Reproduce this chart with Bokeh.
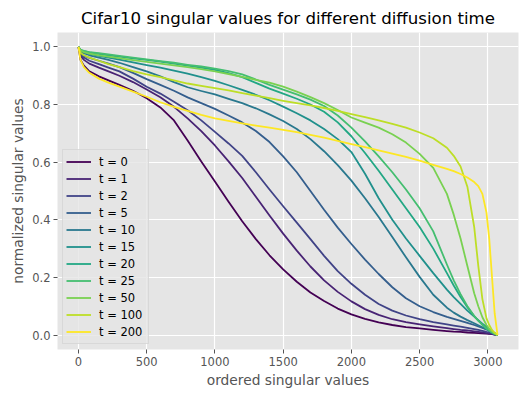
from bokeh.plotting import figure
from bokeh.models import Range1d, FixedTicker, Legend, LegendItem
from bokeh.palettes import Viridis256
from bokeh.embed import file_html
from bokeh.resources import INLINE

title = "Cifar10 singular values for different diffusion time"
x_label = "ordered singular values"
y_label = "normalized singular values"

times = [0, 1, 2, 5, 10, 15, 20, 25, 50, 100, 200]

x_ticks = [0, 500, 1000, 1500, 2000, 2500, 3000]
x_tick_labels = ["0", "500", "1000", "1500", "2000", "2500", "3000"]
y_ticks = [0.0, 0.2, 0.4, 0.6, 0.8, 1.0]
y_tick_labels = ["0.0", "0.2", "0.4", "0.6", "0.8", "1.0"]

index = [0, 15, 40, 80, 150, 220,
         300, 400, 500, 600, 700, 800, 900, 1000, 1100, 1200, 1300, 1400, 1500,
         1600, 1700, 1800, 1900, 2000, 2100, 2200, 2300, 2400, 2500, 2600, 2700,
         2750, 2800, 2850, 2900, 2930, 2960, 2990, 3010, 3030, 3050, 3071]

sv_t0 = [1.0, 0.955, 0.935, 0.915, 0.898, 0.884,
         0.868, 0.848, 0.822, 0.79, 0.745, 0.675, 0.602, 0.533, 0.463, 0.395, 0.333, 0.277, 0.228,
         0.185, 0.148, 0.118, 0.092, 0.072, 0.056, 0.044, 0.035, 0.028, 0.023, 0.018, 0.014,
         0.012, 0.011, 0.009, 0.008, 0.007, 0.006, 0.005, 0.004, 0.003, 0.002, 0.0]
sv_t1 = [1.0, 0.97, 0.955, 0.942, 0.928, 0.915,
         0.9, 0.878, 0.852, 0.825, 0.792, 0.752, 0.708, 0.658, 0.603, 0.545, 0.48, 0.415, 0.352,
         0.293, 0.238, 0.19, 0.15, 0.117, 0.09, 0.07, 0.055, 0.045, 0.037, 0.03, 0.024,
         0.021, 0.018, 0.016, 0.013, 0.011, 0.009, 0.007, 0.005, 0.004, 0.002, 0.0]
sv_t2 = [1.0, 0.975, 0.963, 0.952, 0.94, 0.928,
         0.915, 0.89, 0.862, 0.838, 0.81, 0.78, 0.745, 0.705, 0.665, 0.622, 0.565, 0.505, 0.447,
         0.39, 0.333, 0.275, 0.222, 0.178, 0.14, 0.108, 0.085, 0.068, 0.055, 0.045, 0.037,
         0.033, 0.029, 0.025, 0.021, 0.018, 0.015, 0.011, 0.009, 0.006, 0.003, 0.0]
sv_t5 = [1.0, 0.98, 0.97, 0.962, 0.952, 0.942,
         0.93, 0.91, 0.888, 0.868, 0.848, 0.825, 0.805, 0.785, 0.762, 0.738, 0.708, 0.67, 0.62,
         0.565, 0.5, 0.435, 0.373, 0.316, 0.262, 0.212, 0.166, 0.128, 0.1, 0.08, 0.063,
         0.056, 0.049, 0.042, 0.035, 0.03, 0.025, 0.02, 0.015, 0.01, 0.005, 0.0]
sv_t10 = [1.0, 0.985, 0.978, 0.971, 0.963, 0.955,
          0.945, 0.93, 0.915, 0.898, 0.878, 0.86, 0.847, 0.835, 0.82, 0.805, 0.787, 0.766, 0.743,
          0.715, 0.68, 0.638, 0.59, 0.536, 0.475, 0.41, 0.34, 0.27, 0.202, 0.14, 0.095,
          0.078, 0.064, 0.052, 0.041, 0.034, 0.027, 0.02, 0.015, 0.01, 0.005, 0.0]
sv_t15 = [1.0, 0.988, 0.982, 0.976, 0.969, 0.963,
          0.956, 0.946, 0.937, 0.928, 0.918, 0.907, 0.895, 0.882, 0.867, 0.851, 0.834, 0.815, 0.793,
          0.77, 0.745, 0.715, 0.68, 0.635, 0.56, 0.475, 0.4, 0.335, 0.275, 0.215, 0.158,
          0.132, 0.108, 0.085, 0.064, 0.052, 0.04, 0.028, 0.02, 0.012, 0.006, 0.0]
sv_t20 = [1.0, 0.99, 0.985, 0.981, 0.976, 0.971,
          0.966, 0.96, 0.955, 0.949, 0.942, 0.935, 0.928, 0.92, 0.909, 0.895, 0.875, 0.855, 0.838,
          0.82, 0.8, 0.775, 0.738, 0.69, 0.632, 0.57, 0.505, 0.44, 0.375, 0.3, 0.215,
          0.172, 0.132, 0.097, 0.066, 0.05, 0.036, 0.023, 0.016, 0.009, 0.004, 0.0]
sv_t25 = [1.0, 0.99, 0.986, 0.982, 0.978, 0.974,
          0.969, 0.963, 0.957, 0.951, 0.945, 0.938, 0.932, 0.925, 0.916, 0.905, 0.887, 0.868, 0.852,
          0.835, 0.817, 0.795, 0.762, 0.72, 0.672, 0.62, 0.565, 0.505, 0.44, 0.36, 0.245,
          0.19, 0.142, 0.1, 0.066, 0.05, 0.036, 0.023, 0.016, 0.009, 0.004, 0.0]
sv_t50 = [1.0, 0.988, 0.982, 0.977, 0.971, 0.966,
          0.961, 0.954, 0.948, 0.942, 0.936, 0.93, 0.923, 0.915, 0.906, 0.896, 0.886, 0.876, 0.862,
          0.845, 0.826, 0.805, 0.781, 0.755, 0.737, 0.72, 0.697, 0.668, 0.629, 0.58, 0.49,
          0.418, 0.335, 0.24, 0.145, 0.1, 0.062, 0.035, 0.022, 0.013, 0.006, 0.0]
sv_t100 = [1.0, 0.98, 0.971, 0.963, 0.952, 0.94,
           0.93, 0.916, 0.905, 0.895, 0.884, 0.873, 0.865, 0.857, 0.849, 0.84, 0.831, 0.822, 0.813,
           0.805, 0.797, 0.788, 0.778, 0.767, 0.756, 0.745, 0.733, 0.72, 0.703, 0.683, 0.65,
           0.622, 0.585, 0.515, 0.375, 0.24, 0.125, 0.058, 0.035, 0.018, 0.008, 0.0]
sv_t200 = [1.0, 0.955, 0.93, 0.91, 0.89, 0.876,
           0.862, 0.845, 0.827, 0.808, 0.792, 0.778, 0.764, 0.752, 0.743, 0.735, 0.727, 0.72, 0.712,
           0.704, 0.695, 0.685, 0.674, 0.663, 0.652, 0.641, 0.63, 0.618, 0.605, 0.591, 0.577,
           0.569, 0.559, 0.547, 0.531, 0.517, 0.49, 0.425, 0.335, 0.205, 0.075, 0.0]

series = [sv_t0, sv_t1, sv_t2, sv_t5, sv_t10, sv_t15, sv_t20, sv_t25, sv_t50, sv_t100, sv_t200]

FONT = "DejaVu Sans"
GREY = "#555555"

p = figure(width=531, height=399, output_backend="svg", toolbar_location=None,
           x_range=Range1d(-153.5, 3224.6), y_range=Range1d(-0.05, 1.05),
           min_border_left=57, min_border_right=13, min_border_top=32, min_border_bottom=50,
           background_fill_color="#e5e5e5", border_fill_color="white",
           outline_line_color=None)

p.title.text = title
p.title.text_font = FONT
p.title.text_font_size = "16.6px"
p.title.text_font_style = "normal"
p.title.text_color = "black"
p.title.align = "center"

p.xaxis.ticker = FixedTicker(ticks=x_ticks)
p.xaxis.major_label_overrides = {t: l for t, l in zip(x_ticks, x_tick_labels)}
p.yaxis.ticker = FixedTicker(ticks=y_ticks)
p.yaxis.major_label_overrides = {t: l for t, l in zip(y_ticks, y_tick_labels)}
p.xaxis.axis_label = x_label
p.yaxis.axis_label = y_label

for ax in (p.xaxis, p.yaxis):
    ax.axis_line_color = None
    ax.major_tick_line_color = GREY
    ax.major_tick_out = 4
    ax.major_tick_in = 0
    ax.minor_tick_line_color = None
    ax.major_label_text_color = GREY
    ax.major_label_text_font = FONT
    ax.major_label_text_font_size = "11.5px"
    ax.major_label_standoff = 3
    ax.axis_label_text_color = GREY
    ax.axis_label_text_font = FONT
    ax.axis_label_text_font_size = "13.8px"
    ax.axis_label_text_font_style = "normal"
    ax.axis_label_standoff = 3

p.grid.grid_line_color = "white"
p.grid.grid_line_width = 1.2

n = len(times)
colors = [Viridis256[min(255, int(i / (n - 1) * 256))] for i in range(n)]

items = []
for t, ys, c in zip(times, series, colors):
    r = p.line(index, ys, line_color=c, line_width=1.8, line_join="round")
    items.append(LegendItem(label="t = %d" % t, renderers=[r]))

legend = Legend(items=items, location="bottom_left")
legend.label_text_font = FONT
legend.label_text_font_size = "11.5px"
legend.label_text_color = "black"
legend.glyph_width = 25
legend.glyph_height = 17
legend.label_height = 17
legend.label_width = 46
legend.spacing = 0
legend.padding = 3
legend.margin = 5
legend.label_standoff = 8
legend.background_fill_color = "#e5e5e5"
legend.background_fill_alpha = 0.8
legend.border_line_color = "#cccccc"
legend.border_line_width = 1
p.add_layout(legend)

open("out.html", "w").write(file_html(p, INLINE))
